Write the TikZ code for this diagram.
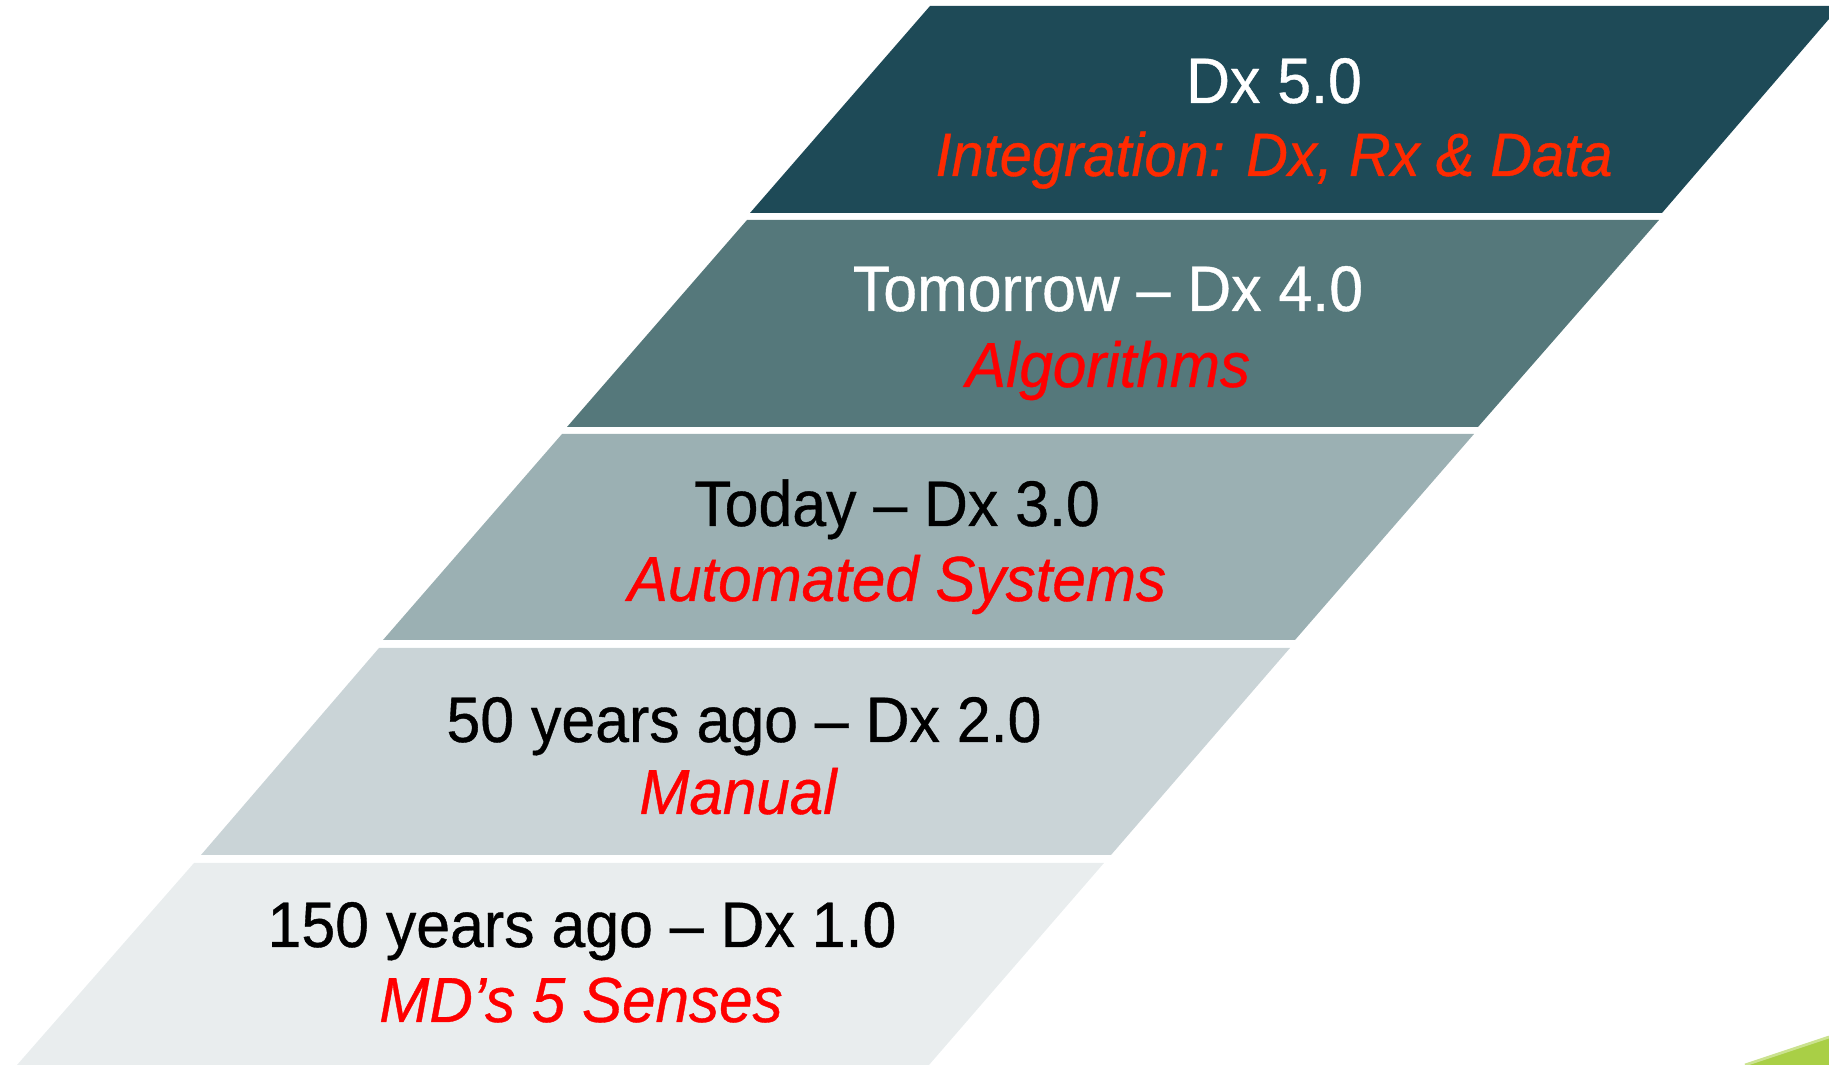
\documentclass[tikz,border=0pt]{standalone}
\usepackage{fontspec}
\setmainfont{Liberation Sans}[FakeStretch=0.945,FakeBold=0.6]
\usetikzlibrary{calc}

\definecolor{dxfive}{HTML}{1E4A57}
\definecolor{dxfour}{HTML}{55787B}
\definecolor{dxthree}{HTML}{9BB0B3}
\definecolor{dxtwo}{HTML}{CAD4D7}
\definecolor{dxone}{HTML}{E9EDEE}
\definecolor{subred}{HTML}{FF0000}
\definecolor{topred}{HTML}{FF2A00}
\definecolor{cornergreen}{HTML}{A9CF46}

\begin{document}
\begin{tikzpicture}[x=0.01cm,y=-0.01cm,
	title/.style={anchor=base,inner sep=0pt,font=\fontsize{18.3}{22}\selectfont},
	subtitle/.style={anchor=base,inner sep=0pt,text=subred,font=\fontsize{18.1}{22}\selectfont\itshape}]

	\useasboundingbox (0,0) rectangle (1829,1065);

	% top band: Dx 5.0
	\fill[dxfive] (930,6) -- (1829,6) -- (1829,19) -- (1662,213) -- (750,213) -- cycle;
	\node[title,text=white] (t5) at (1274,103) {Dx 5.0};
	\node[subtitle,text=topred,font=\fontsize{17.4}{22}\selectfont\itshape] (s5) at (1274,176) {Integration: Dx, Rx \& Data};

	% Dx 4.0
	\fill[dxfour] (747,220) -- (1659,220) -- (1478,427) -- (567,427) -- cycle;
	\node[title,text=white] (t4) at (1108,311) {Tomorrow -- Dx 4.0};
	\node[subtitle] (s4) at (1108,387) {Algorithms};

	% Dx 3.0
	\fill[dxthree] (562,434) -- (1474,434) -- (1295,640) -- (383,640) -- cycle;
	\node[title] (t3) at (897,526) {Today -- Dx 3.0};
	\node[subtitle] (s3) at (897,601) {Automated Systems};

	% Dx 2.0
	\fill[dxtwo] (379,648) -- (1290,648) -- (1111,855) -- (201,855) -- cycle;
	\node[title] (t2) at (744,742) {50 years ago -- Dx 2.0};
	\node[subtitle] (s2) at (738,814) {Manual};

	% bottom band: Dx 1.0
	\fill[dxone] (194,863) -- (1104,863) -- (929,1065) -- (17,1065) -- cycle;
	\node[title] (t1) at (582,947) {150 years ago -- Dx 1.0};
	\node[subtitle] (s1) at (581,1022) {MD’s 5 Senses};

	% green corner of the next shape
	\fill[cornergreen] (1745,1065) -- (1829,1037) -- (1829,1065) -- cycle;
	\draw[cornergreen!60!white,line width=0.8pt] (1745,1065) -- (1829,1037);

\end{tikzpicture}
\end{document}
